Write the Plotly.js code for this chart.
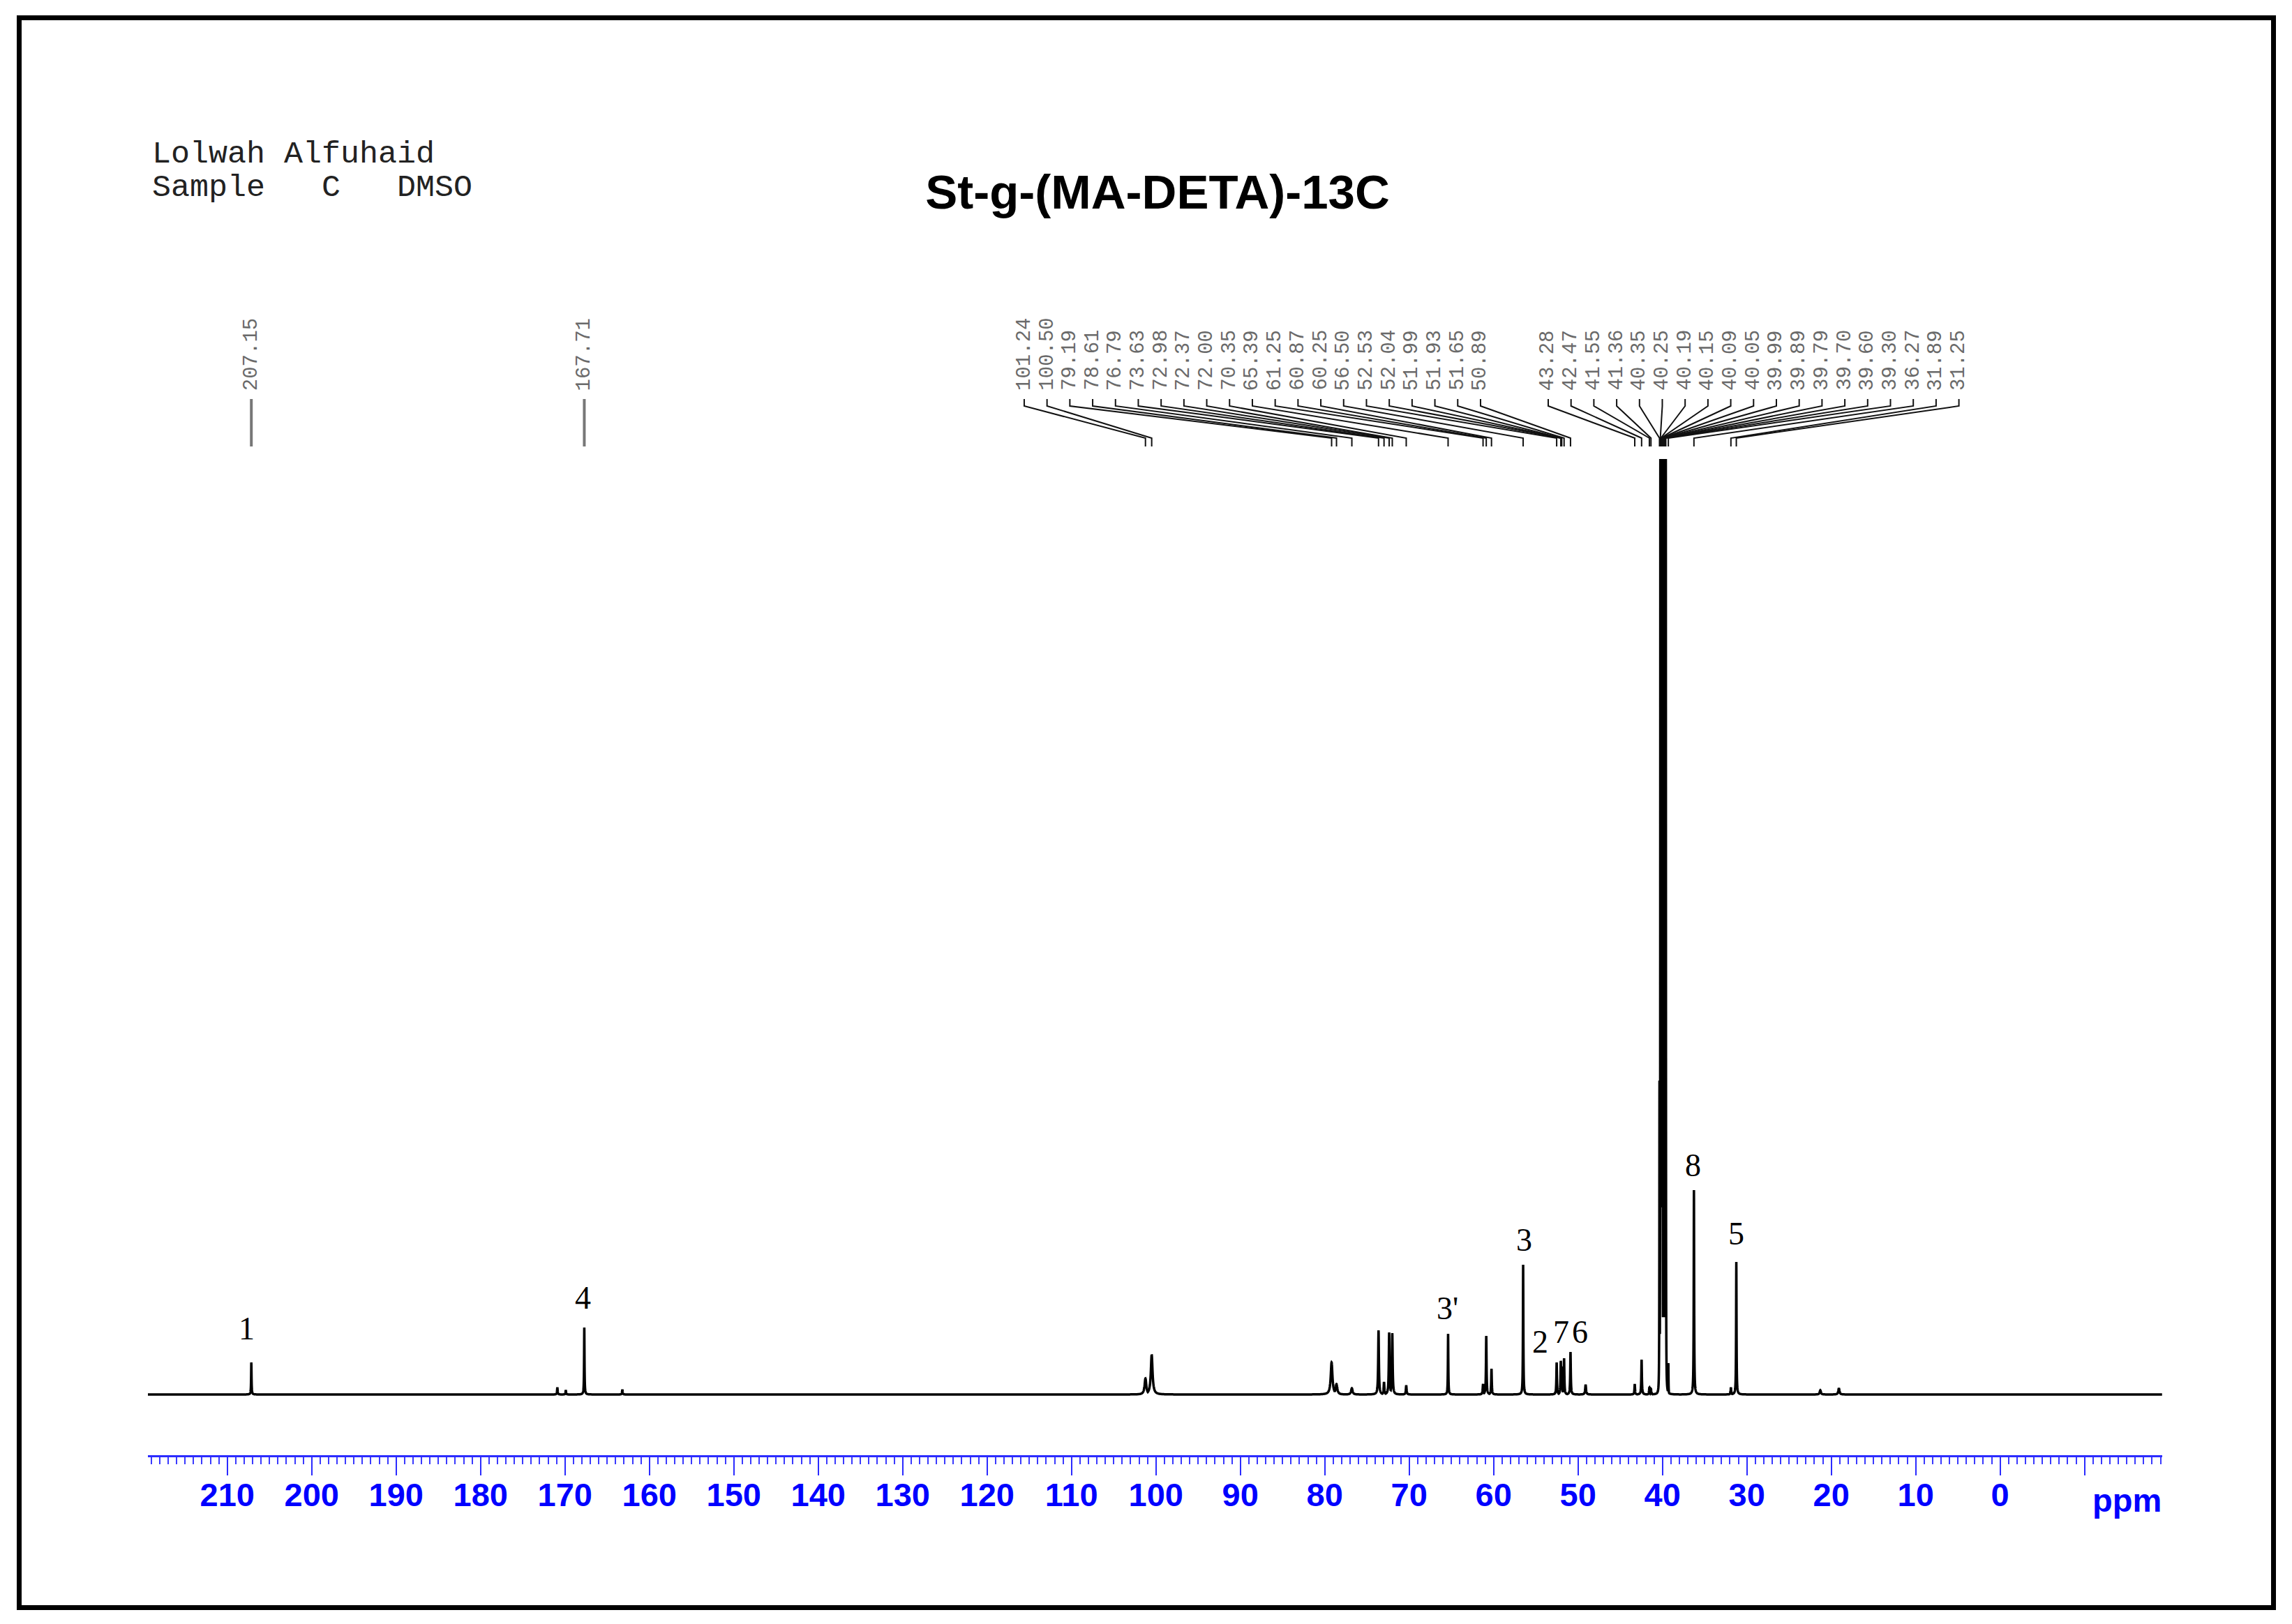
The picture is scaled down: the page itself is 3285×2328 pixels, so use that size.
<!DOCTYPE html>
<html>
<head>
<meta charset="utf-8">
<script src="https://cdn.plot.ly/plotly-3.0.1.min.js"></script>
<style>
html,body{margin:0;padding:0;background:#fff;}
#chart{width:3285px;height:2328px;}
</style>
</head>
<body>
<div id="chart"></div>
<script>
// ---------------- DATA ----------------
// 13C peak list: chemical shift (ppm), relative intensity (a.u.), half width (ppm)
const peakPpm = [207.15, 167.71, 170.90, 169.90, 163.20,
  101.24, 100.50, 79.19, 78.61, 76.79, 73.63, 72.98, 72.37, 72.00, 70.35,
  65.39, 61.25, 60.87, 60.25, 56.50, 52.53, 52.04, 51.99, 51.93, 51.65, 50.89, 49.10,
  43.28, 42.47, 41.55, 41.36,
  40.35, 40.25, 40.19, 40.15, 40.09, 40.05, 39.99, 39.89, 39.79, 39.70, 39.60, 39.30,
  36.27, 31.89, 31.25, 21.30, 19.10];
const peakHeight = [46, 96, 10, 6, 7,
  23, 57, 46, 15, 9, 92, 18, 89, 88, 13,
  87, 15, 84, 37, 186, 46, 48, 40, 40, 52, 61, 14,
  15, 50, 10, 8,
  450, 1341, 1341, 1341, 1341, 1341, 1341, 1341, 1341, 1341, 1341, 45,
  293, 10, 190, 6, 9];
const peakHwhm = [0.03, 0.03, 0.04, 0.04, 0.04,
  0.12, 0.12, 0.12, 0.12, 0.10, 0.05, 0.05, 0.05, 0.05, 0.05,
  0.03, 0.05, 0.04, 0.04, 0.03, 0.04, 0.04, 0.04, 0.04, 0.04, 0.04, 0.06,
  0.04, 0.04, 0.04, 0.04,
  0.02, 0.015, 0.015, 0.015, 0.015, 0.015, 0.015, 0.015, 0.015, 0.015, 0.015, 0.02,
  0.03, 0.04, 0.03, 0.08, 0.08];

// Peak-pick labels printed above the spectrum
const singleLabels = ['207.15', '167.71'];
const labelGroup1 = ['101.24','100.50','79.19','78.61','76.79','73.63','72.98','72.37','72.00','70.35',
  '65.39','61.25','60.87','60.25','56.50','52.53','52.04','51.99','51.93','51.65','50.89'];
const labelGroup2 = ['43.28','42.47','41.55','41.36','40.35','40.25','40.19','40.15','40.09','40.05',
  '39.99','39.89','39.79','39.70','39.60','39.30','36.27','31.89','31.25'];

// Carbon assignment numbers written next to peaks
const assignText = ['1', '4', "3'", '3', '2', '7', '6', '8', '5'];
const assignPpm  = [207.67, 167.83, 65.51, 56.34, 54.44, 52.00, 49.73, 36.42, 31.22];
const assignInt  = [95, 139, 124, 222, 76, 90, 90, 329, 231];

// Axis ticks
const tickVals = [-10, 0, 10, 20, 30, 40, 50, 60, 70, 80, 90, 100, 110, 120, 130, 140, 150, 160, 170, 180, 190, 200, 210];
const tickText = ['', '0', '10', '20', '30', '40', '50', '60', '70', '80', '90', '100', '110', '120', '130', '140', '150', '160', '170', '180', '190', '200', '210'];

// ---------------- LAYOUT CONSTANTS ----------------
const W = 3285, H = 2328;
const M = {l: 212, r: 186, t: 440, b: 242};
const X_RANGE = [219.4, -19.2];
const Y_RANGE = [-87, 1559];
const plotH = H - M.t - M.b, plotW = W - M.l - M.r;
const py = p => (H - M.b - p) / plotH;      // pixel row -> paper y
const pxp = p => (p - M.l) / plotW;          // pixel col -> paper x
const LABEL_STEP = 2.7026;                   // spacing of peak-pick labels (ppm units)
const G1_START = 115.60, G2_START = 53.53;
const Y_TXT = 1438, Y_L1 = 1427, Y_L2 = 1417, Y_L3 = 1371, Y_L4 = 1359;

// ---------------- SPECTRUM ----------------
const xs = [];
for (let x = X_RANGE[0]; x >= X_RANGE[1]; x -= 0.02) xs.push(x);
peakPpm.forEach((p, i) => {
  const w = peakHwhm[i];
  for (let k = -40; k <= 40; k++) xs.push(p + k * w / 5);
});
xs.sort((a, b) => b - a);
const ys = xs.map(x => {
  let m = 0;
  for (let i = 0; i < peakPpm.length; i++) {
    const d = (x - peakPpm[i]) / peakHwhm[i];
    const v = peakHeight[i] / (1 + d * d);
    if (v > m) m = v;
  }
  return m;
});

const spectrum = {
  x: xs, y: ys, type: 'scatter', mode: 'lines',
  line: {color: '#000', width: 3.5, simplify: false},
  hoverinfo: 'skip', showlegend: false
};

// connectors for grouped labels
const cx = [], cy = [];
const annotations = [];
const labFont = {family: 'Liberation Mono, Courier New, monospace', size: 29, color: '#6a6a6a'};
function addGroup(list, start) {
  list.forEach((t, i) => {
    const lx = start - i * LABEL_STEP;
    const pk = parseFloat(t);
    cx.push(lx, lx, pk, pk, null);
    cy.push(Y_L1, Y_L2, Y_L3, Y_L4, null);
    annotations.push({x: lx, y: Y_TXT, xref: 'x', yref: 'y', text: t, textangle: -90,
      xanchor: 'center', yanchor: 'bottom', showarrow: false, font: labFont, borderpad: 0});
  });
}
addGroup(labelGroup1, G1_START);
addGroup(labelGroup2, G2_START);
const connectors = {x: cx, y: cy, type: 'scatter', mode: 'lines',
  line: {color: '#111', width: 2}, hoverinfo: 'skip', showlegend: false};

const sx = [], sy = [];
singleLabels.forEach(t => {
  const pk = parseFloat(t);
  sx.push(pk, pk, null); sy.push(Y_L1, Y_L4, null);
  annotations.push({x: pk, y: Y_TXT, xref: 'x', yref: 'y', text: t, textangle: -90,
    xanchor: 'center', yanchor: 'bottom', showarrow: false, font: labFont, borderpad: 0});
});
const singles = {x: sx, y: sy, type: 'scatter', mode: 'lines',
  line: {color: '#777', width: 4}, hoverinfo: 'skip', showlegend: false};

// assignment numbers
assignText.forEach((t, i) => {
  annotations.push({x: assignPpm[i], y: assignInt[i], xref: 'x', yref: 'y', text: t,
    xanchor: 'center', yanchor: 'middle', showarrow: false,
    font: {family: 'Liberation Serif, Times New Roman, serif', size: 46, color: '#000'}});
});

// header text
const monoHead = {family: 'Liberation Mono, Courier New, monospace', size: 45, color: '#222'};
annotations.push({xref: 'paper', yref: 'paper', x: pxp(216), y: py(221), xanchor: 'left', yanchor: 'middle',
  text: 'Lolwah Alfuhaid', showarrow: false, font: monoHead});
annotations.push({xref: 'paper', yref: 'paper', x: pxp(216), y: py(269), xanchor: 'left', yanchor: 'middle',
  text: 'Sample\u00a0\u00a0\u00a0C\u00a0\u00a0\u00a0DMSO', showarrow: false, font: monoHead});

// ppm unit label
const blueFont = {family: 'Liberation Sans Narrow, Liberation Sans, Arial, sans-serif', size: 47, color: '#0000ff', weight: 700};
annotations.push({x: -15.0, xref: 'x', yref: 'paper', y: py(2150), xanchor: 'center', yanchor: 'middle',
  text: 'ppm', showarrow: false, font: blueFont});

const layout = {
  width: W, height: H,
  margin: M,
  paper_bgcolor: '#fff', plot_bgcolor: '#fff',
  title: {text: 'St-g-(MA-DETA)-13C', xref: 'container', yref: 'container',
    x: 1659 / W, y: 1 - 275 / H, xanchor: 'center', yanchor: 'middle',
    font: {family: 'Liberation Sans, Arial, sans-serif', size: 69, color: '#000', weight: 700}},
  xaxis: {
    range: X_RANGE, autorange: false, showgrid: false, zeroline: false,
    showline: true, linecolor: '#2b2bff', linewidth: 3,
    ticks: 'outside', ticklen: 26, tickwidth: 2, tickcolor: '#2b2bff',
    tickmode: 'array', tickvals: tickVals, ticktext: tickText,
    tickfont: blueFont, ticklabelstandoff: -12,
    minor: {ticks: 'outside', ticklen: 10, tickwidth: 2, tickcolor: '#3a3aff',
      tickmode: 'linear', tick0: 0, dtick: 1, showgrid: false},
    fixedrange: true
  },
  yaxis: {range: Y_RANGE, autorange: false, visible: false, fixedrange: true},
  shapes: [{type: 'rect', xref: 'paper', yref: 'paper',
    x0: pxp(27.5), x1: pxp(3258.5), y0: py(2304.5), y1: py(25.5),
    line: {color: '#000', width: 7}, fillcolor: 'rgba(0,0,0,0)', layer: 'above'}],
  annotations: annotations,
  showlegend: false
};

Plotly.newPlot('chart', [spectrum, connectors, singles], layout, {displayModeBar: false, staticPlot: true});
</script>
</body>
</html>
